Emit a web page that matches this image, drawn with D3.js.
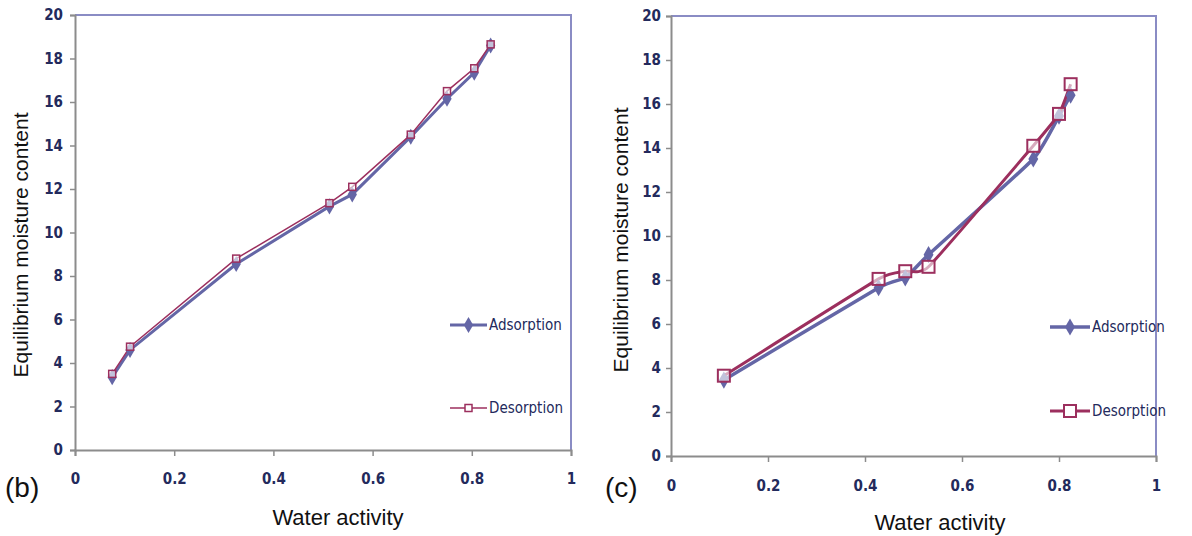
<!DOCTYPE html>
<meta charset="utf-8">
<style>
body { margin: 0; background: #fff; }
.tick text { font-family: "DejaVu Sans Condensed", "DejaVu Sans", sans-serif; font-stretch: condensed; font-size: 15px; font-weight: 600; fill: #232a5c; }
.axis-title { font-family: "Liberation Sans", Arial, sans-serif; fill: #111; }
.legend text { font-family: "DejaVu Sans Condensed", "DejaVu Sans", sans-serif; font-stretch: condensed; font-size: 15px; fill: #232a5c; }
</style>
<svg width="1192" height="536"></svg>
<script src="https://d3js.org/d3.v7.min.js"></script>
<script>

// panel (b)
var awB  = [0.075, 0.111, 0.325, 0.513, 0.559, 0.677, 0.750, 0.805, 0.838];
var adsB = [3.35, 4.60, 8.55, 11.20, 11.75, 14.40, 16.15, 17.35, 18.60];
var desB = [3.50, 4.75, 8.80, 11.35, 12.10, 14.50, 16.50, 17.55, 18.65];

// panel (c)
var awC  = [0.109, 0.428, 0.483, 0.531, 0.747, 0.800, 0.824];
var adsC = [3.45, 7.65, 8.10, 9.15, 13.50, 15.45, 16.40];
var desC = [3.65, 8.05, 8.40, 8.60, 14.10, 15.55, 16.90];

var xTicks = [0, 0.2, 0.4, 0.6, 0.8, 1];
var yTicks = [0, 2, 4, 6, 8, 10, 12, 14, 16, 18, 20];
var seriesNames = ["Adsorption", "Desorption"];

var adsColor = "#6466a6",
    desColor = "#9c2f5e",
    frameColor = "#8a8cc4",
    axisColor = "#8c8c8c";

var svg = d3.select("svg");
svg.append("rect").attr("width", 1192).attr("height", 536).attr("fill", "#fff");

function drawPanel(p) {
  var x = d3.scaleLinear().domain([0, 1]).range([p.left, p.right]);
  var y = d3.scaleLinear().domain([0, 20]).range([p.bottom, p.top]);
  var g = svg.append("g");

  // top / right frame
  g.append("path")
      .attr("d", "M" + p.left + "," + p.top + "H" + p.right + "V" + p.bottom)
      .attr("fill", "none")
      .attr("stroke", frameColor)
      .attr("stroke-width", 2);

  var xAxis = g.append("g")
      .attr("transform", "translate(0," + p.bottom + ")")
      .call(d3.axisBottom(x).tickValues(xTicks).tickSize(6).tickPadding(p.xPad).tickFormat(d3.format("")));
  var yAxis = g.append("g")
      .attr("transform", "translate(" + p.left + ",0)")
      .call(d3.axisLeft(y).tickValues(yTicks).tickSize(5).tickPadding(p.yPad));
  [xAxis, yAxis].forEach(function(a) {
    a.select(".domain").attr("stroke", axisColor).attr("stroke-width", 2);
    a.selectAll(".tick line").attr("stroke", axisColor).attr("stroke-width", 1.5);
  });

  var line = d3.line()
      .x(function(d) { return x(d[0]); })
      .y(function(d) { return y(d[1]); })
      .curve(p.curve);

  var ads = p.aw.map(function(a, i) { return [a, p.ads[i]]; });
  var des = p.aw.map(function(a, i) { return [a, p.des[i]]; });

  g.append("path").datum(ads)
      .attr("d", line).attr("fill", "none")
      .attr("stroke", adsColor).attr("stroke-width", p.adsWidth);
  g.append("path").datum(des)
      .attr("d", line).attr("fill", "none")
      .attr("stroke", desColor).attr("stroke-width", p.desWidth);

  var diamond = d3.symbol().type(d3.symbolDiamond).size(p.diamondSize);
  g.selectAll(".ads-pt").data(ads).enter().append("path")
      .attr("transform", function(d) { return "translate(" + x(d[0]) + "," + y(d[1]) + ")"; })
      .attr("d", diamond)
      .attr("fill", adsColor);

  var s = p.squareSize;
  g.selectAll(".des-pt").data(des).enter().append("rect")
      .attr("x", function(d) { return x(d[0]) - s / 2; })
      .attr("y", function(d) { return y(d[1]) - s / 2; })
      .attr("width", s).attr("height", s)
      .attr("fill", "#fff").attr("fill-opacity", 0.6)
      .attr("stroke", desColor).attr("stroke-width", p.squareStroke);

  // legend
  var lg = g.append("g").attr("class", "legend");
  seriesNames.forEach(function(name, i) {
    var ly = p.legendY[i], lx = p.legendX;
    var isAds = i === 0;
    lg.append("line")
        .attr("x1", lx).attr("x2", lx + p.legendLen)
        .attr("y1", ly).attr("y2", ly)
        .attr("stroke", isAds ? adsColor : desColor)
        .attr("stroke-width", isAds ? p.adsWidth : p.desWidth);
    if (isAds) {
      lg.append("path")
          .attr("transform", "translate(" + (lx + p.legendLen / 2) + "," + ly + ")")
          .attr("d", diamond).attr("fill", adsColor);
    } else {
      lg.append("rect")
          .attr("x", lx + p.legendLen / 2 - s / 2).attr("y", ly - s / 2)
          .attr("width", s).attr("height", s)
          .attr("fill", "#fff").attr("stroke", desColor).attr("stroke-width", p.squareStroke);
    }
    lg.append("text")
        .attr("x", lx + p.legendLen + 2).attr("y", ly)
        .attr("dy", "0.35em")
        .text(name);
  });

  // titles
  svg.append("text").attr("class", "axis-title")
      .attr("transform", "translate(" + p.yTitleX + "," + p.yTitleY + ") rotate(-90)")
      .attr("text-anchor", "middle")
      .style("font-size", "21px")
      .text("Equilibrium moisture content");
  svg.append("text").attr("class", "axis-title")
      .attr("x", p.xTitleX).attr("y", p.xTitleY)
      .attr("text-anchor", "middle")
      .style("font-size", "22px")
      .text("Water activity");
  svg.append("text").attr("class", "axis-title")
      .attr("x", p.tagX).attr("y", 497)
      .style("font-size", "28px")
      .text(p.tag);
}

drawPanel({
  aw: awB, ads: adsB, des: desB,
  left: 75, right: 571, top: 15, bottom: 450,
  xPad: 17, yPad: 7,
  curve: d3.curveLinear,
  adsWidth: 3, desWidth: 1.5,
  diamondSize: 75, squareSize: 7, squareStroke: 1.5,
  legendX: 450, legendLen: 37, legendY: [325, 408],
  yTitleX: 28, yTitleY: 245,
  xTitleX: 338, xTitleY: 525,
  tag: "(b)", tagX: 5
});

drawPanel({
  aw: awC, ads: adsC, des: desC,
  left: 671, right: 1156, top: 16, bottom: 456,
  xPad: 18, yPad: 5,
  curve: d3.curveCardinal.tension(0.6),
  adsWidth: 3.5, desWidth: 3,
  diamondSize: 85, squareSize: 12, squareStroke: 2,
  legendX: 1050, legendLen: 40, legendY: [327, 411],
  yTitleX: 628, yTitleY: 240,
  xTitleX: 940, xTitleY: 530,
  tag: "(c)", tagX: 605
});

</script>
